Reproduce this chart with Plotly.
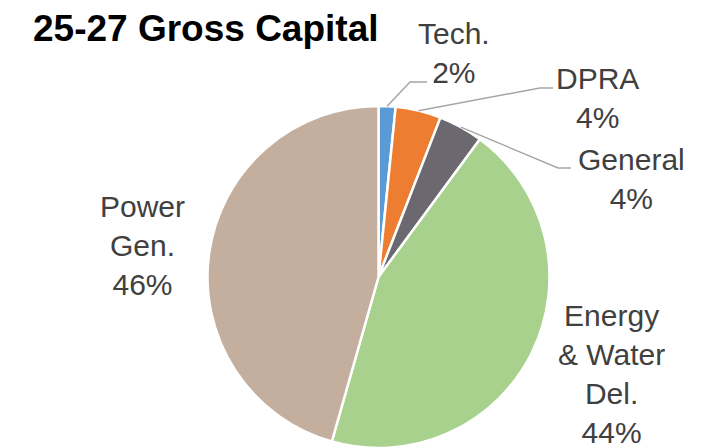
import numpy as np
import plotly.graph_objects as go

# ---- data ----
categories = ["Tech.", "DPRA", "General", "Energy<br>& Water<br>Del.", "Power<br>Gen."]
values = [1.6, 4.3, 4.2, 44.3, 45.6]
colors = ["#5B9BD5", "#ED7D31", "#6B6870", "#A9D18E", "#C4AF9F"]
title_text = "25-27 Gross Capital"

W, H = 718, 448
# pie geometry (pixels)
CX, CY, R = 378.5, 277.0, 171.0

fig = go.Figure(go.Pie(
    labels=categories,
    values=values,
    sort=False,
    direction="clockwise",
    rotation=0,
    marker=dict(colors=colors, line=dict(color="white", width=2.5)),
    textinfo="none",
    hoverinfo="label+percent",
    showlegend=False,
    domain=dict(x=[(CX - R) / W, (CX + R) / W], y=[0, 2 * R / H]),
))

def px(x):
    return x / W

def py(y):
    return 1 - y / H

# percent labels from data
vals = np.array(values, dtype=float)
pct = np.round(vals / vals.sum() * 100).astype(int)
cum = np.cumsum(vals) / vals.sum()
mid = (cum - vals / vals.sum() / 2) * 2 * np.pi  # clockwise from 12 o'clock

# label centre positions (pixels)
label_pos = [(454, 53), (597, 98), (631, 179), (611, 374), (142, 245)]
label_color = "#404040"
font_family = "Liberation Sans, Arial, sans-serif"

annotations = []
for i, (lx, ly) in enumerate(label_pos):
    annotations.append(dict(
        x=px(lx), y=py(ly), xref="paper", yref="paper",
        xanchor="center", yanchor="middle",
        text=f"{categories[i]}<br>{pct[i]}%",
        showarrow=False, align="center",
        font=dict(family=font_family, size=30, color=label_color),
    ))

annotations.append(dict(
    x=px(31), y=py(28), xref="paper", yref="paper",
    xanchor="left", yanchor="middle",
    text=f"<b>{title_text}</b>", showarrow=False,
    font=dict(family=font_family, size=37, color="#000000"),
))

# leader lines for the three small slices
elbows = [((410, 82), (427, 82)), ((540, 88), (553, 88)), ((558, 168), (571, 168))]
shapes = []
for i, (e1, e2) in enumerate(elbows):
    sx = CX + R * np.sin(mid[i])
    sy = CY - R * np.cos(mid[i])
    path = f"M {px(sx)} {py(sy)} L {px(e1[0])} {py(e1[1])} L {px(e2[0])} {py(e2[1])}"
    shapes.append(dict(type="path", path=path, xref="paper", yref="paper",
                       line=dict(color="#A6A6A6", width=1.5)))

fig.update_layout(
    width=W, height=H,
    margin=dict(l=0, r=0, t=0, b=0),
    paper_bgcolor="white", plot_bgcolor="white",
    annotations=annotations, shapes=shapes,
)

fig.write_html("out.html")
